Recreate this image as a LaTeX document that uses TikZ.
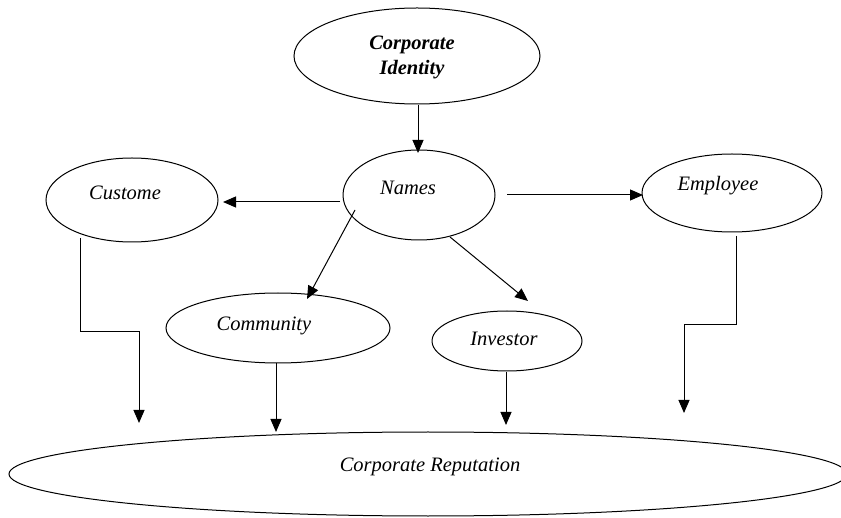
\documentclass[tikz,border=0pt]{standalone}
\usepackage{fontspec}
\setmainfont{Liberation Serif}
\usetikzlibrary{arrows.meta}
\begin{document}
\begin{tikzpicture}[x=1pt,y=-1pt,
  oval/.style={draw,line width=1pt},
  lab/.style={font=\fontsize{20.5}{23}\selectfont\itshape},
  conn/.style={line width=1pt,-{Triangle[length=13pt,width=11pt]}}]
\useasboundingbox (0,0) rectangle (841,518);
\clip (0,0) rectangle (841,518);
\fill[white] (0,0) rectangle (841,518);
% ellipses
\draw[oval] (417,56) ellipse [x radius=123, y radius=48];
\node[font=\fontsize{20.5}{25}\selectfont\bfseries\itshape,align=center] (ci) at (412,57) {Corporate\\Identity};
\draw[oval] (419,195) ellipse [x radius=76, y radius=45];
\node[lab] (names) at (408,188) {Names};
\draw[oval] (132,200) ellipse [x radius=86, y radius=42];
\node[lab] (cust) at (125,193) {Custome};
\draw[oval] (732,193) ellipse [x radius=90, y radius=39];
\node[lab] (emp) at (718,186) {Employee};
\draw[oval] (278,328) ellipse [x radius=112, y radius=35];
\node[lab] (comm) at (264,326) {Community};
\draw[oval] (507,341) ellipse [x radius=75, y radius=30];
\node[lab] (inv) at (504,339) {Investor};
\draw[oval] (428,474) ellipse [x radius=419, y radius=42];
\node[lab] (rep) at (430,467) {Corporate Reputation};
% connector endpoints
\coordinate (a1) at (418,105); \coordinate (a2) at (418,153);
\coordinate (b1) at (340,202); \coordinate (b2) at (223,202);
\coordinate (c1) at (507,195); \coordinate (c2) at (643,195);
\coordinate (d1) at (355,210); \coordinate (d2) at (307,299);
\coordinate (e1) at (450,237); \coordinate (e2) at (528,301);
\coordinate (f1) at (80,238); \coordinate (f2) at (139,423);
\coordinate (g1) at (276,363); \coordinate (g2) at (276,432);
\coordinate (h1) at (506,372); \coordinate (h2) at (506,425);
\coordinate (k1) at (736,236); \coordinate (k2) at (684,413);
\draw[conn] (a1) -- (a2);
\draw[conn] (b1) -- (b2);
\draw[conn] (c1) -- (c2);
\draw[conn] (d1) -- (d2);
\draw[conn] (e1) -- (e2);
\draw[conn] (f1) |- (139,332) -- (f2);
\draw[conn] (g1) -- (g2);
\draw[conn] (h1) -- (h2);
\draw[conn] (k1) |- (684,325) -- (k2);
\end{tikzpicture}
\end{document}
